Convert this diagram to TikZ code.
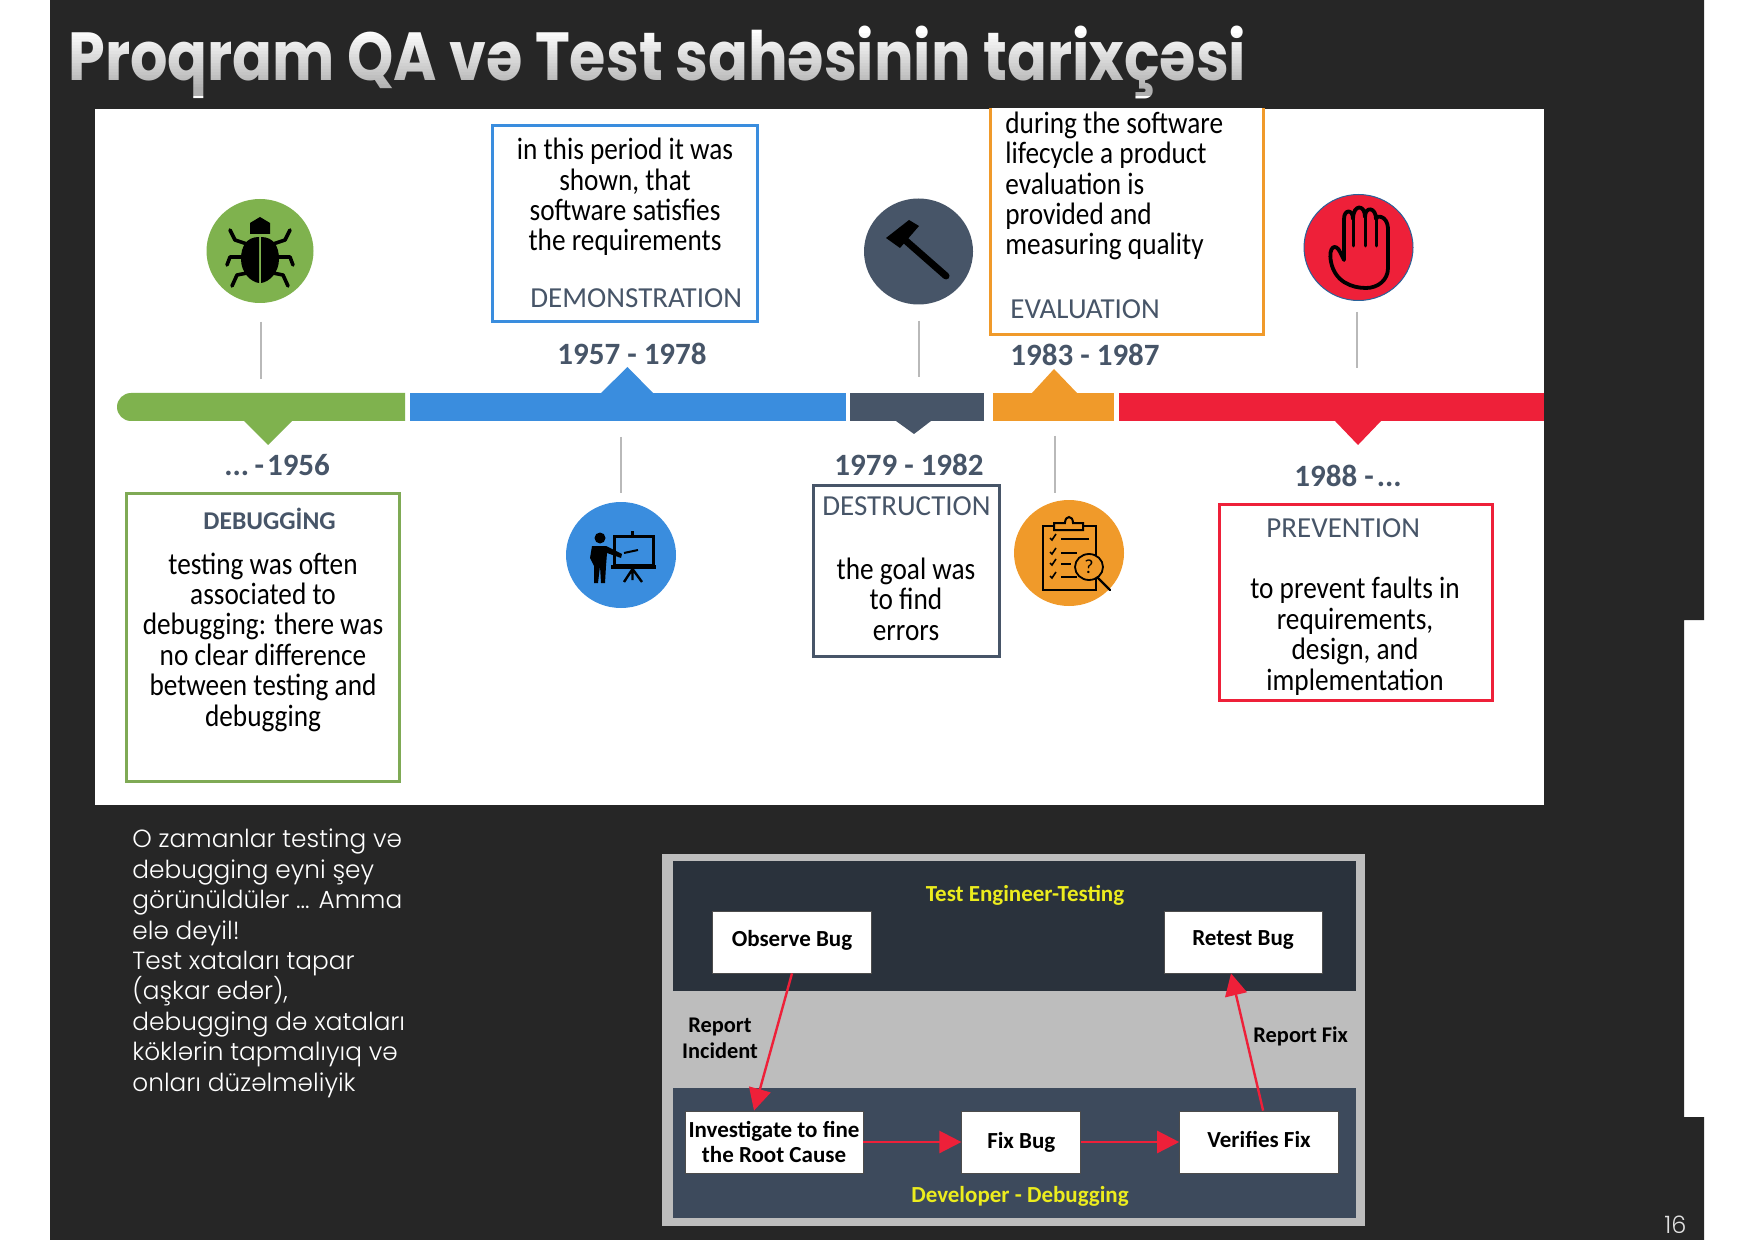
\documentclass[tikz,border=0pt]{standalone}
\usepackage{fontspec}
\usepackage{xcolor}
\setmainfont{Carlito}
\newfontfamily\gothicfont[UprightFont=* Light]{Poppins}
\newfontfamily\titlefont[FakeStretch=0.865]{Poppins}
\newfontfamily\handfont[FakeStretch=0.88]{Carlito}
\usetikzlibrary{arrows.meta, positioning}
\definecolor{fundo}{RGB}{38,38,38}
\definecolor{verde}{RGB}{127,178,78}
\definecolor{azul}{RGB}{58,141,222}
\definecolor{ardosia}{RGB}{71,85,104}
\definecolor{laranja}{RGB}{240,154,42}
\definecolor{vermelho}{RGB}{238,32,57}
\definecolor{cinzabase}{RGB}{189,189,189}
\definecolor{faixatopo}{RGB}{42,50,60}
\definecolor{faixabase}{RGB}{61,74,92}
\definecolor{amarelo}{RGB}{236,236,30}

\begin{document}
\begin{tikzpicture}[
  x=0.5pt, y=-0.5pt,
  cartao/.style={draw=#1, line width=1.5pt, fill=white, inner sep=0pt},
  ano/.style={anchor=base west, inner sep=0pt, text=ardosia, font=\fontsize{15.5}{18}\selectfont\bfseries},
  rotulo/.style={anchor=base west, inner sep=0pt, text=ardosia, font=\fontsize{14.5}{17}\selectfont},
  texto/.style={anchor=base, inner sep=0pt, align=center, text=black, font=\handfont\fontsize{15.5}{15.2}\selectfont},
  haste/.style={draw=gray!55, line width=0.6pt},
  passo/.style={draw=gray!60!black, line width=0.4pt, fill=white, inner sep=0pt, align=center,
                minimum height=31pt, font=\fontsize{11.5}{12.6}\selectfont\bfseries},
  faixa/.style={anchor=base, inner sep=0pt, text=amarelo, font=\fontsize{11.5}{13}\selectfont\bfseries},
  legenda/.style={anchor=base, inner sep=0pt, align=center, text=black, font=\fontsize{11.2}{12.6}\selectfont\bfseries},
  seta/.style={draw=vermelho, line width=1.2pt, -{Triangle[length=11pt, width=11pt]}},
  icone/.style={draw=black, line width=1.8pt, line cap=round, line join=round}
]
\useasboundingbox (0,0) rectangle (1754,1240);
\fill[fundo] (50,0) -- (1704,0) -- (1704,620) -- (1684,620) -- (1684,1117) -- (1704,1117) -- (1704,1240) -- (50,1240) -- cycle;

\node[anchor=base west, inner sep=0pt, text=white, font=\titlefont\fontsize{34}{40}\selectfont\bfseries] (titulo) at (68,81)
  {Proqram QA və Test sahəsinin tarixçəsi};
\foreach \i in {0,...,19} {
  \pgfmathsetmacro{\op}{\i*0.019}
  \fill[fundo, opacity=\op] (60,30+3*\i) rectangle (1260,33+3*\i);
}
\fill[fundo, opacity=0.36] (60,90) rectangle (1260,96);

\fill[white] (95,109) rectangle (1544,805);

% linha do tempo
\fill[verde] (405,393) [rounded corners=7pt] -- (117,393) -- (117,421) [sharp corners] -- (405,421) -- cycle;
\fill[verde] (244,421) -- (268,445) -- (292,421) -- cycle;
\fill[azul] (410,393) rectangle (846,421);
\fill[azul] (601,393) -- (627.5,367) -- (653,393) -- cycle;
\fill[ardosia] (850,393) rectangle (984,421);
\fill[ardosia] (896,421) -- (914,434) -- (931,421) -- cycle;
\fill[laranja] (993,393) rectangle (1114,421);
\fill[laranja] (1032,393) -- (1054,369) -- (1077,393) -- cycle;
\fill[vermelho] (1119,393) rectangle (1544,421);
\fill[vermelho] (1335,421) -- (1358,445) -- (1381,421) -- cycle;

\draw[haste] (261,322) -- (261,379);
\draw[haste] (621,437) -- (621,493);
\draw[haste] (919,321) -- (919,377);
\draw[haste] (1055,436) -- (1055,493);
\draw[haste] (1357,312) -- (1357,368);

\fill[verde] (260,251) ellipse[x radius=53.5, y radius=52];
\fill[azul] (621,555) ellipse[x radius=55, y radius=53];
\fill[ardosia] (918.5,251.5) ellipse[x radius=54.5, y radius=53];
\fill[laranja] (1069,553) ellipse[x radius=55, y radius=53];
\draw[azul!70!black, line width=0.5pt, fill=vermelho] (1358.5,247.5) ellipse[x radius=54.5, y radius=53];

% inseto
\begin{scope}[shift={(260,251)}]
  \fill[black] (-10,-17) -- (-10,-28) -- (0,-34) -- (10,-28) -- (10,-17) -- cycle;
  \fill[black] (-1,-14) .. controls (-14,-14) and (-19,-4) .. (-19,8) .. controls (-19,22) and (-9,31) .. (-1,32) -- cycle;
  \fill[black] (1,-14) .. controls (14,-14) and (19,-4) .. (19,8) .. controls (19,22) and (9,31) .. (1,32) -- cycle;
  \foreach \s in {-1,1} {
    \draw[icone] (\s*10,-6) -- (\s*25,-11) -- (\s*30,-21);
    \draw[icone] (\s*15,6) -- (\s*30,6) -- (\s*33,14);
    \draw[icone] (\s*13,22) -- (\s*23,24) -- (\s*28,35);
  }
\end{scope}

% professor e quadro
\fill[black] (600,538) circle[radius=5.5];
\fill[black] (592,546) -- (606,546) -- (622,554) -- (621,558) -- (607,553) -- (606,566) -- (605,583) -- (601,583) -- (600,566) -- (598,583) -- (594,583) -- (594,566) -- (590,558) -- cycle;
\draw[black, line width=1.5pt] (614,536) rectangle (653,565);
\fill[black] (611,565) rectangle (656,569);
\draw[black, line width=1.2pt] (632.5,531) -- (632.5,536);
\draw[black, line width=1.2pt] (624,582) -- (632.5,569) -- (642,582) (632.5,569) -- (632.5,580);
\draw[black, line width=1pt] (624,553) -- (638,550);

% martelo
\draw[black, line width=3.5pt, line cap=round] (905,240) -- (946,276);
\fill[black] (886,238) -- (909,220) -- (919,226) -- (900,248) -- cycle;

% prancheta
\draw[black, line width=1pt, fill=laranja] (1043,526) rectangle (1096,590);
\draw[black, line width=1pt, fill=laranja] (1054,530) -- (1054,523) -- (1065,523) .. controls (1065,515) and (1073,515) .. (1073,523) -- (1083,523) -- (1083,530) -- cycle;
\foreach \yy/\xx in {539/1089, 553/1077, 564/1071, 577/1077} {
  \draw[black, line width=0.8pt] (1050,\yy-1) -- (1052,\yy+1) -- (1056,\yy-5);
  \draw[black, line width=0.9pt] (1061,\yy) -- (\xx,\yy);
}
\draw[black, line width=1.2pt, line cap=round] (1098,578) -- (1110,590);
\draw[black, line width=0.9pt, fill=laranja] (1089,567) ellipse[x radius=14, y radius=13];
\node[inner sep=0pt, font=\fontsize{10}{10}\selectfont] (duvida) at (1089,567) {?};

% mao
\draw[icone, line width=1.9pt] (1331,262) .. controls (1328,246) and (1336,243) .. (1340,252) -- (1344,260) -- (1344,219)
  .. controls (1344,209) and (1353,209) .. (1353,219) .. controls (1353,204) and (1365,204) .. (1365,217)
  .. controls (1365,206) and (1376,207) .. (1376,219) .. controls (1376,215) and (1387,215) .. (1388,228)
  -- (1388,268) .. controls (1388,280) and (1378,288) .. (1366,288) .. controls (1352,288) and (1335,282) .. (1331,262) -- cycle;
\draw[icone, line width=1.5pt] (1353,219) -- (1353,246) (1365,217) -- (1365,246) (1376,219) -- (1376,246);

% cartoes
\begin{scope}
  \clip (95,109) rectangle (1544,805);
  \node[cartao=laranja, minimum width=136.5pt, minimum height=122.5pt] (avaliacao) at (1126.5,212.5) {};
\end{scope}
\node[cartao=azul, minimum width=132.5pt, minimum height=98pt] (demonstracao) at (625,224) {};
\node[cartao=verde!85!gray, minimum width=136.5pt, minimum height=144pt] (depuracao) at (262.5,637) {};
\node[cartao=ardosia, minimum width=93pt, minimum height=85.5pt] (destruicao) at (906,570.5) {};
\node[cartao=vermelho, minimum width=136.5pt, minimum height=98pt] (prevencao) at (1355.5,602) {};

\node[texto] (t2) at (625,251) {in this period it was\\shown, that\\software satisfies\\the requirements};
\node[rotulo] (r2) at (530,308) {DEMONSTRATION};
\node[ano] (a2) at (557,365) {1957 - 1978};

\node[ano] (a1) at (224,475) {...\hspace{-2pt} -\hspace{-2pt} 1956};
\node[anchor=base west, inner sep=0pt, text=ardosia, font=\fontsize{12.8}{15}\selectfont\bfseries] (r1) at (203,529) {DEBUGGİNG};
\node[texto] (t1) at (263,726) {testing was often\\associated to\\debugging: there was\\no clear difference\\between testing and\\debugging};

\node[ano] (a3) at (834,475) {1979 - 1982};
\node[rotulo] (r3) at (822,515) {DESTRUCTION};
\node[texto] (t3) at (906,640) {the goal was\\to find\\errors};

\node[texto, align=left, anchor=base west] (t4) at (1005,255) {during the software\\lifecycle a product\\evaluation is\\provided and\\measuring quality};
\node[rotulo] (r4) at (1010,319) {EVALUATION};
\node[ano] (a4) at (1010,366) {1983 - 1987};

\node[ano] (a5) at (1294,487) {1988 -\hspace{-2pt} ...};
\node[rotulo] (r5) at (1266,537) {PREVENTION};
\node[texto] (t5) at (1355,690) {to prevent faults in\\requirements,\\design, and\\implementation};

\node[anchor=base west, inner sep=0pt, align=left, text=white,
      font=\gothicfont\fontsize{12.4}{15.2}\selectfont] (resumo) at (132,1091)
  {O zamanlar testing və\\debugging eyni şey\\görünüldülər ... Amma\\elə deyil!\\Test xataları tapar\\(aşkar edər),\\debugging də xataları\\köklərin tapmalıyıq və\\onları düzəlməliyik};

\node[anchor=base west, inner sep=0pt, text=white!88!black, font=\gothicfont\fontsize{12}{14}\selectfont] (pagina) at (1664,1233) {16};

% esquema inferior
\fill[cinzabase] (662,854) rectangle (1365,1226);
\fill[faixatopo] (673,861) rectangle (1356,991);
\fill[faixabase] (673,1088) rectangle (1356,1218);

\node[faixa] (testes) at (1025,901) {Test Engineer-Testing};
\node[faixa] (devs) at (1020,1202) {Developer - Debugging};

\node[passo, minimum width=79.5pt, text depth=3.5pt] (observa) at (792,942) {Observe Bug};
\node[passo, minimum width=79pt, text depth=3.5pt] (retesta) at (1243,942) {Retest Bug};
\node[passo, minimum width=89pt] (investiga) at (774,1142) {Investigate to fine\\the Root Cause};
\node[passo, minimum width=59.5pt, right=49pt of investiga] (corrige) {Fix Bug};
\node[passo, minimum width=79.5pt, text depth=3pt, right=49pt of corrige] (verifica) {Verifies Fix};

\draw[seta] (observa.south) -- ([xshift=-10pt]investiga.north);
\draw[seta] ([xshift=2pt]verifica.north) -- ([xshift=-6pt]retesta.south);
\draw[seta] (investiga) -- (corrige);
\draw[seta] (corrige) -- (verifica);

\node[legenda] (incidente) at (720,1058) {Report\\Incident};
\node[legenda, anchor=base west] (correcao) at (1253,1042) {Report Fix};

\end{tikzpicture}
\end{document}
